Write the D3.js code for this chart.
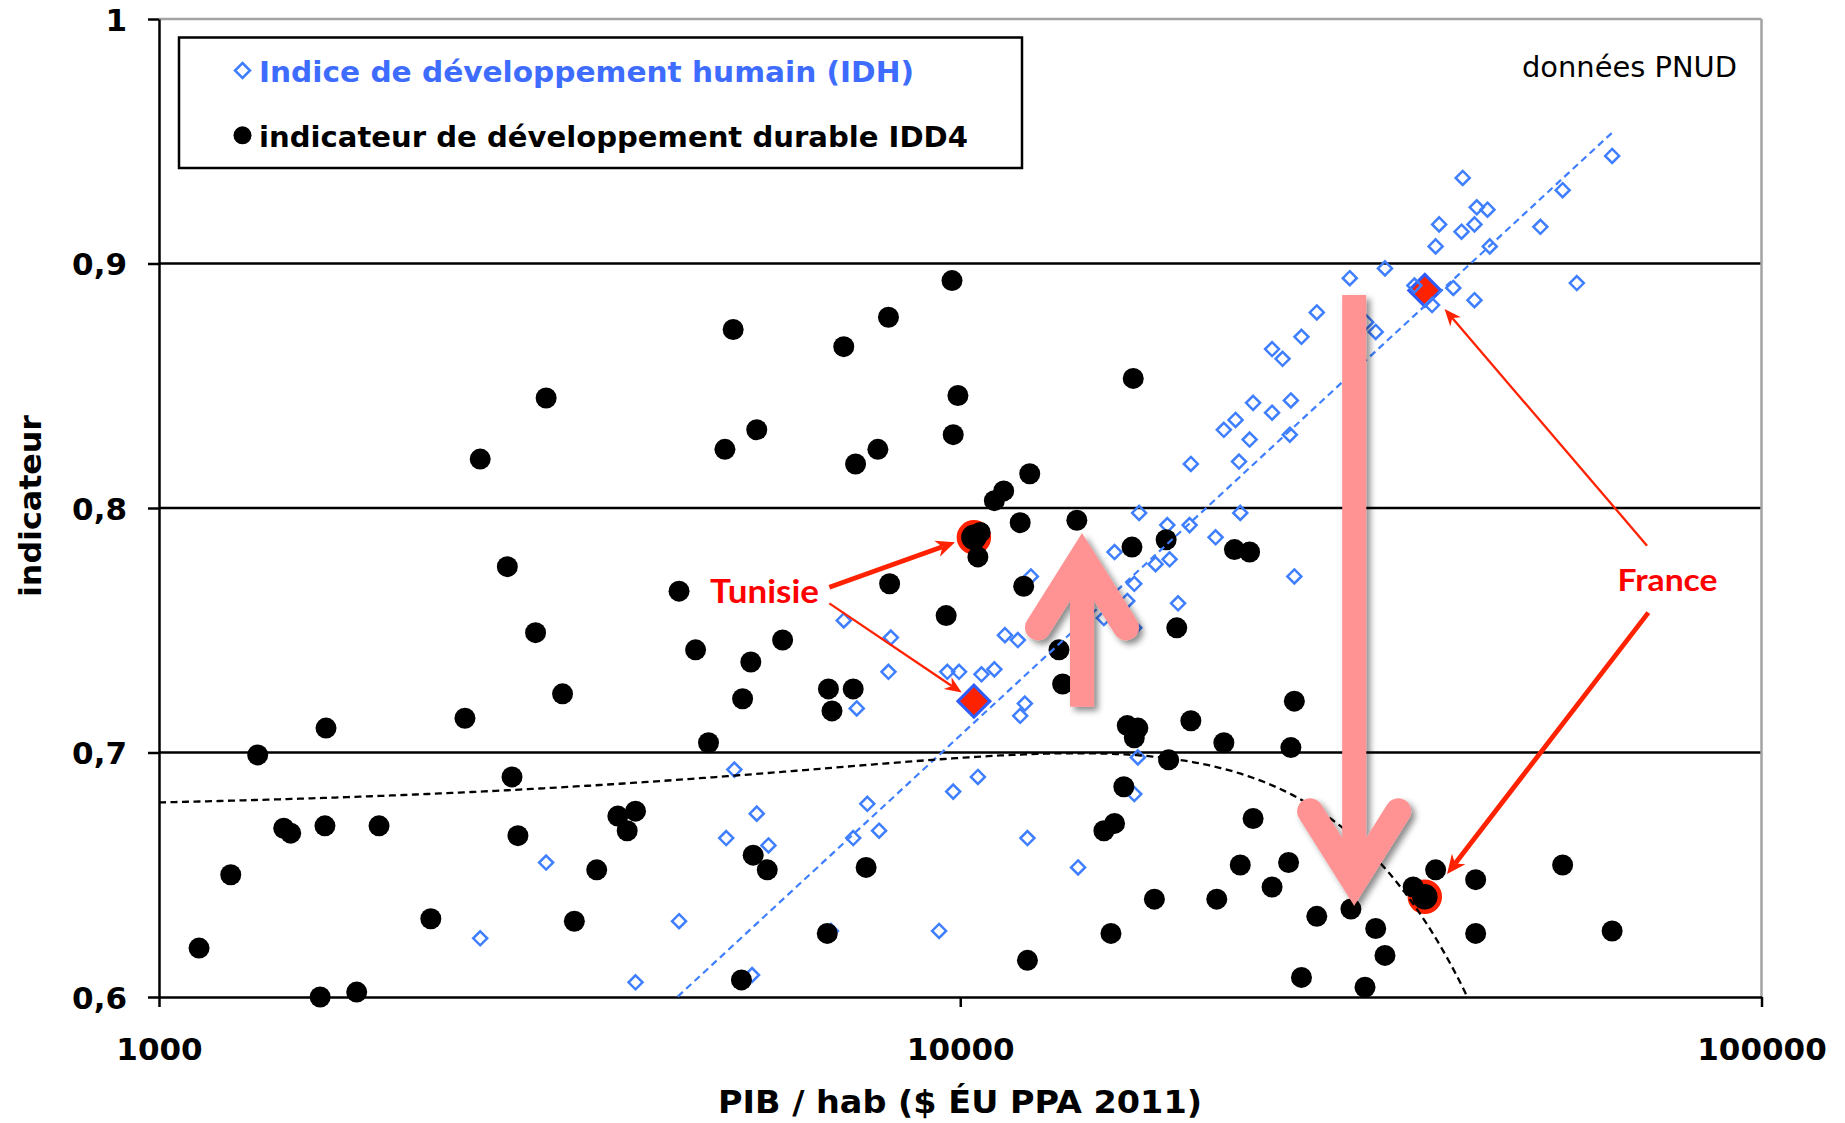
<!DOCTYPE html>
<html><head><meta charset="utf-8">
<script src="https://cdn.jsdelivr.net/npm/d3@7"></script>
<style>html,body{margin:0;padding:0;background:#fff;} svg{display:block}</style>
</head><body>
<svg id="chart" width="1845" height="1123"></svg>
<script>
// ---------------- data ----------------
const yTicks = [0.6, 0.7, 0.8, 0.9, 1];
const yTickLabels = ["0,6", "0,7", "0,8", "0,9", "1"];
const xTicks = [1000, 10000, 100000];
const xTickLabels = ["1000", "10000", "100000"];

const seriesNames = ["Indice de développement humain (IDH)", "indicateur de développement durable IDD4"];

// IDH (blue diamonds)
const idhGdp = [2517,3042,3933,4457,5104,5225,5497,5572,5763,7155,7352,7427,7656,7919,8136,8192,9410,9635,9800,9966,
  10520,10630,11030,11370,11800,11880,12040,12130,12250,14030,15580,15110,16490,16160,16490,16720,16660,17530,18250,18700,
  18130,19330,19400,20830,21330,22060,22280,22360,22970,23200,24500,24500,25250,25780,25860,26120,26660,27860,30630,32110,
  33000,33890,36880,38800,39200,39600,41240,42230,42370,43830,43830,44120,45500,45800,52970,56470,58820,65100,6895,16490];
const idhValue = [0.624,0.655,0.606,0.631,0.665,0.693,0.609,0.675,0.662,0.754,0.665,0.718,0.679,0.668,0.733,0.747,0.627,0.733,0.684,0.733,
  0.690,0.732,0.734,0.748,0.746,0.715,0.720,0.665,0.772,0.653,0.782,0.755,0.769,0.762,0.683,0.798,0.698,0.777,0.779,0.761,
  0.793,0.793,0.818,0.788,0.832,0.836,0.819,0.798,0.828,0.843,0.865,0.839,0.861,0.830,0.844,0.772,0.870,0.880,0.894,0.876,
  0.872,0.898,0.891,0.883,0.907,0.916,0.890,0.913,0.935,0.916,0.885,0.923,0.922,0.907,0.915,0.930,0.892,0.944,0.627,0.751];

// IDD4 (black dots)
const iddGdp = [1122,1229,1328,1431,1460,1616,1611,1589,1765,1882,2184,2409,2517,2721,2758,2805,2951,3042,3189,3299,
  3518,3738,3840,3933,4457,4674,4851,5085,5207,5332,5350,5478,5515,5572,5743,6002,6824,6847,6917,7155,
  7352,7402,7630,7892,8136,8163,9603,9766,9800,9933,10590,10520,11030,11330,11880,12000,12130,12210,13280,13420,
  13980,15110,15420,15580,16000,16160,16380,16440,16490,16660,17470,18070,18200,18630,19400,20900,21330,21990,22360,22970,
  23200,24500,25690,25860,26120,26660,27860,30730,32000,33000,33890,36750,39200,43980,43980,56470,65100];
const iddValue = [0.620,0.650,0.699,0.669,0.667,0.710,0.670,0.600,0.602,0.670,0.632,0.714,0.820,0.776,0.690,0.666,0.749,0.845,0.724,0.631,
  0.652,0.674,0.668,0.676,0.766,0.742,0.704,0.824,0.873,0.607,0.722,0.737,0.658,0.832,0.652,0.746,0.626,0.726,0.717,0.866,
  0.726,0.818,0.653,0.824,0.878,0.769,0.756,0.893,0.830,0.846,0.790,0.780,0.803,0.807,0.794,0.768,0.615,0.814,0.742,0.728,
  0.795,0.668,0.626,0.671,0.686,0.711,0.784,0.853,0.706,0.710,0.640,0.787,0.697,0.751,0.713,0.640,0.704,0.783,0.654,0.782,
  0.673,0.645,0.655,0.702,0.721,0.608,0.633,0.636,0.604,0.628,0.617,0.645,0.652,0.648,0.626,0.654,0.627];

// highlighted countries
const highlightNames = ["Tunisie", "France"];
const highlightGdp = [10400, 38000];
const highlightIdh = [0.721, 0.889];
const highlightIdd = [0.788, 0.641];

// trendlines
const idhTrendCoef = [-0.505, 0.303];              // y = a + b*log10(x)
const idhTrendRange = [4440, 65100];
const iddTrendCoef = [0.67638, 3.332e-6, -1.19e-10]; // y = c0 + c1*x + c2*x^2

// ---------------- layout ----------------
const L = 159, R = 1761.5, T = 19, B = 997;
const x = d3.scaleLog().domain([1000, 100000]).range([L, R]);
const y = d3.scaleLinear().domain([0.6, 1]).range([B, T]);

const BLUE = "#3f7fff", RED = "#ff2200", TXTRED = "#fe0000", PINK = "#ff9292";
const FONT = "'DejaVu Sans', Verdana, sans-serif";

const svg = d3.select("#chart");
const defs = svg.append("defs");
const f = defs.append("filter").attr("id", "shadow").attr("x", "-40%").attr("y", "-40%").attr("width", "180%").attr("height", "180%");
f.append("feDropShadow").attr("dx", 4).attr("dy", 4).attr("stdDeviation", 3).attr("flood-color", "#000").attr("flood-opacity", 0.45);

svg.append("rect").attr("width", 1845).attr("height", 1123).attr("fill", "#fff");

// gridlines
svg.append("g").selectAll("line").data(yTicks.filter(v => v > 0.6 && v < 1)).join("line")
  .attr("x1", L).attr("x2", R).attr("y1", d => y(d)).attr("y2", d => y(d))
  .attr("stroke", "#000").attr("stroke-width", 2.3);
svg.append("line").attr("x1", L).attr("x2", R).attr("y1", y(1)).attr("y2", y(1))
  .attr("stroke", "#a3a3a3").attr("stroke-width", 2.5);
svg.append("line").attr("x1", R).attr("x2", R).attr("y1", y(1)).attr("y2", y(0.6))
  .attr("stroke", "#a3a3a3").attr("stroke-width", 2.5);

// axes
const yAxis = svg.append("g").attr("transform", `translate(${L},0)`)
  .call(d3.axisLeft(y).tickValues(yTicks).tickFormat((d, i) => yTickLabels[i]).tickSize(11).tickSizeOuter(0).tickPadding(21));
const xAxis = svg.append("g").attr("transform", `translate(0,${B})`)
  .call(d3.axisBottom(x).tickValues(xTicks).tickFormat((d, i) => xTickLabels[i]).tickSize(10).tickSizeOuter(0));
[yAxis, xAxis].forEach(g => {
  g.select(".domain").attr("stroke", "#000").attr("stroke-width", 2.5);
  g.selectAll(".tick line").attr("stroke", "#000").attr("stroke-width", 2.5);
  g.selectAll("text").attr("font-family", FONT).attr("font-weight", "bold").attr("font-size", 31).attr("fill", "#000");
});
yAxis.selectAll("text").attr("dy", "0.36em");
xAxis.selectAll("text").attr("y", 63).attr("dy", 0);

// axis titles
svg.append("text").attr("x", 960).attr("y", 1113).attr("text-anchor", "middle")
  .attr("font-family", FONT).attr("font-weight", "bold").attr("font-size", 32)
  .attr("textLength", 484).attr("lengthAdjust", "spacingAndGlyphs")
  .text("PIB / hab ($ ÉU PPA 2011)");
svg.append("text").attr("transform", "translate(41,506) rotate(-90)").attr("text-anchor", "middle")
  .attr("font-family", FONT).attr("font-weight", "bold").attr("font-size", 31)
  .attr("textLength", 182).attr("lengthAdjust", "spacingAndGlyphs")
  .text("indicateur");

// source note
svg.append("text").attr("x", 1737).attr("y", 77).attr("text-anchor", "end")
  .attr("font-family", FONT).attr("font-size", 28)
  .attr("textLength", 215).attr("lengthAdjust", "spacingAndGlyphs")
  .text("données PNUD");

const diamond = r => `M0,${-r}L${r},0L0,${r}L${-r},0Z`;

// ---- IDH series ----
const gIdh = svg.append("g");
gIdh.selectAll("path.hl").data(highlightGdp).join("path").attr("class", "hl")
  .attr("transform", (d, i) => `translate(${x(d)},${y(highlightIdh[i])})`)
  .attr("d", diamond(16)).attr("fill", RED).attr("stroke", "#2f5cff").attr("stroke-width", 3);
gIdh.selectAll("path.pt").data(idhGdp).join("path").attr("class", "pt")
  .attr("transform", (d, i) => `translate(${x(d)},${y(idhValue[i])})`)
  .attr("d", diamond(7)).attr("fill", "none").attr("stroke", BLUE).attr("stroke-width", 2.5);

// ---- IDD series ----
const gIdd = svg.append("g");
gIdd.selectAll("circle.hl").data(highlightGdp).join("circle").attr("class", "hl")
  .attr("cx", d => x(d)).attr("cy", (d, i) => y(highlightIdd[i])).attr("r", 15)
  .attr("fill", "#000").attr("stroke", RED).attr("stroke-width", 4.5);
gIdd.selectAll("circle.pt").data(iddGdp).join("circle").attr("class", "pt")
  .attr("cx", d => x(d)).attr("cy", (d, i) => y(iddValue[i])).attr("r", 10.5).attr("fill", "#000");

// ---- trendlines ----
const line = d3.line().x(d => x(d[0])).y(d => y(d[1]));
const idhTrend = idhTrendRange.map(v => [v, idhTrendCoef[0] + idhTrendCoef[1] * Math.log10(v)]);
svg.append("path").attr("d", line(idhTrend)).attr("fill", "none")
  .attr("stroke", BLUE).attr("stroke-width", 2.2).attr("stroke-dasharray", "7,4.5");
const iddTrend = [];
for (let k = 0; k <= 400; k++) {
  const v = Math.pow(10, 3 + 2 * k / 400);
  const yy = iddTrendCoef[0] + iddTrendCoef[1] * v + iddTrendCoef[2] * v * v;
  if (yy < 0.6) {
    // find crossing precisely
    const c = iddTrendCoef, disc = c[1] * c[1] - 4 * c[2] * (c[0] - 0.6);
    const root = (-c[1] - Math.sqrt(disc)) / (2 * c[2]);
    iddTrend.push([root, 0.6]);
    break;
  }
  iddTrend.push([v, yy]);
}
svg.append("path").attr("d", line(iddTrend)).attr("fill", "none")
  .attr("stroke", "#000").attr("stroke-width", 2.3).attr("stroke-dasharray", "7,4.5");

// ---- pink arrows (annotation) ----
const pinkArrows = [
  { gdp: 14190, tip: 0.7898, tail: 0.7187 },
  { gdp: 31020, tip: 0.6373, tail: 0.8871 }
];
const gPink = svg.append("g").attr("filter", "url(#shadow)");
pinkArrows.forEach(a => {
  const cx = x(a.gdp), yt = y(a.tip), yl = y(a.tail);
  const s = yt > yl ? 1 : -1;               // +1 points down
  const w = 26, spread = 44, headLen = 70;
  const ext = (w / 2) / Math.sin(Math.atan(spread / headLen));
  const vy = yt - s * ext, ay = vy - s * headLen;
  gPink.append("line").attr("x1", cx).attr("x2", cx).attr("y1", yl).attr("y2", vy)
    .attr("stroke", PINK).attr("stroke-width", 24);
  gPink.append("path").attr("d", `M${cx - spread},${ay}L${cx},${vy}L${cx + spread},${ay}`)
    .attr("fill", "none").attr("stroke", PINK).attr("stroke-width", w)
    .attr("stroke-linecap", "round").attr("stroke-linejoin", "miter").attr("stroke-miterlimit", 10);
});

// ---- red annotation arrows ----
const redArrows = [
  { from: [6865, 0.7676], to: [9850, 0.7860], w: 4.8, hl: 19, hw: 8.5 },
  { from: [6865, 0.7610], to: [10042, 0.7245], w: 2.3, hl: 17, hw: 7 },
  { from: [71970, 0.7846], to: [40220, 0.8814], w: 2.3, hl: 17, hw: 7 },
  { from: [72240, 0.7572], to: [40510, 0.6503], w: 4.8, hl: 19, hw: 8.5 }
];
const gRed = svg.append("g");
redArrows.forEach(a => {
  const x0 = x(a.from[0]), y0 = y(a.from[1]), x1 = x(a.to[0]), y1 = y(a.to[1]);
  const dx = x1 - x0, dy = y1 - y0, len = Math.hypot(dx, dy), ux = dx / len, uy = dy / len;
  const px = -uy, py = ux;
  const back = a.hl * 0.7;
  gRed.append("line").attr("x1", x0).attr("y1", y0).attr("x2", x1 - ux * back).attr("y2", y1 - uy * back)
    .attr("stroke", RED).attr("stroke-width", a.w);
  const bx = x1 - ux * a.hl, by = y1 - uy * a.hl;
  const nx = x1 - ux * a.hl * 0.7, ny = y1 - uy * a.hl * 0.7;
  gRed.append("path")
    .attr("d", `M${x1},${y1}L${bx + px * a.hw},${by + py * a.hw}L${nx},${ny}L${bx - px * a.hw},${by - py * a.hw}Z`)
    .attr("fill", RED);
});

const labels = [
  { text: highlightNames[0], gdp: 4872, v: 0.7611, size: 32, len: 109 },
  { text: highlightNames[1], gdp: 66120, v: 0.7662, size: 31, len: 100 }
];
svg.append("g").selectAll("text").data(labels).join("text")
  .attr("x", d => x(d.gdp)).attr("y", d => y(d.v))
  .attr("font-family", "Lato, 'Open Sans', sans-serif").attr("font-weight", "bold")
  .attr("font-size", d => d.size).attr("fill", TXTRED)
  .attr("textLength", d => d.len).attr("lengthAdjust", "spacingAndGlyphs")
  .text(d => d.text);

// ---- legend ----
const lg = svg.append("g");
lg.append("rect").attr("x", 179).attr("y", 37.5).attr("width", 843).attr("height", 130.5)
  .attr("fill", "#fff").attr("stroke", "#000").attr("stroke-width", 2.5);
lg.append("path").attr("transform", "translate(242.5,70.5)").attr("d", diamond(7.5))
  .attr("fill", "none").attr("stroke", BLUE).attr("stroke-width", 2.5);
lg.append("circle").attr("cx", 242.5).attr("cy", 135.3).attr("r", 9).attr("fill", "#000");
lg.append("text").attr("x", 259).attr("y", 81.7)
  .attr("font-family", FONT).attr("font-weight", "bold").attr("font-size", 28).attr("fill", "#3d6cff")
  .attr("textLength", 655).attr("lengthAdjust", "spacingAndGlyphs").text(seriesNames[0]);
lg.append("text").attr("x", 259).attr("y", 146.7)
  .attr("font-family", FONT).attr("font-weight", "bold").attr("font-size", 28).attr("fill", "#000")
  .attr("textLength", 709).attr("lengthAdjust", "spacingAndGlyphs").text(seriesNames[1]);
</script>
</body></html>
